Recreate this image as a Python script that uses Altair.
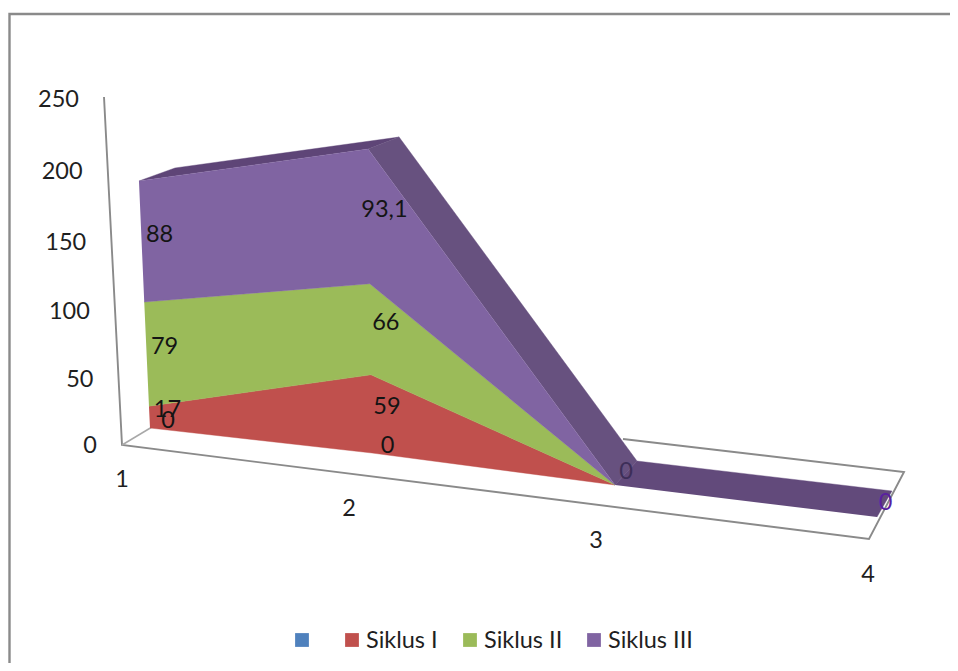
import altair as alt
import pandas as pd

# ---- chart values ----
categories = [1, 2, 3, 4]
blank = [0, 0, 0, 0]
siklus_1 = [17, 59, 0, 0]
siklus_2 = [79, 66, 0, 0]
siklus_3 = [88, 93.1, 0, 0]
series_names = ["", "Siklus I", "Siklus II", "Siklus III"]
series_colors = ["#4F81BD", "#C0504D", "#9BBB59", "#8064A2"]
axis_ticks = [0, 50, 100, 150, 200, 250]

# ---- 3D camera of the reference, per category ----
base_x = [150, 372, 615, 877]
base_y = [428, 453, 485, 517]
lean = [0.06, 0.018, 0.0, 0.0]
rise = [1.28, 1.30, 1.30, 1.30]
persp = [0.00034, 0.00043, 0.0004, 0.0004]
depth_x = [36, 31, 22, 15]
depth_y = [-13, -12, -24, -26]
cat_label_x = [122, 349, 596, 868]
cat_label_y = [480, 509, 541, 575]

W, H = 942, 655
FONT = "Lato"
TXT = "#1f1f1f"
GRID = "#8a8a8a"
xs = alt.Scale(domain=[8, 8 + W], nice=False, zero=False)
ys = alt.Scale(domain=[8 + H, 8], nice=False, zero=False)


def front(i, v):
    return (base_x[i] - lean[i] * v, base_y[i] - rise[i] * v - persp[i] * v * v)


def back(i, v):
    x, y = front(i, v)
    return (x + depth_x[i], y + depth_y[i])


def wall(v):
    return (122 - 0.072 * v, 445 - 1.39 * v)


def poly(points, color):
    df = pd.DataFrame(points, columns=["x", "y"])
    df["seq"] = range(len(df))
    return alt.Chart(df).mark_line(fill=color, stroke=color, strokeWidth=0.4, interpolate="linear").encode(
        x=alt.X("x:Q", scale=xs, axis=None),
        y=alt.Y("y:Q", scale=ys, axis=None),
        order="seq:Q",
    )


def path(points, color, width):
    df = pd.DataFrame(points, columns=["x", "y"])
    df["seq"] = range(len(df))
    return alt.Chart(df).mark_line(stroke=color, strokeWidth=width).encode(
        x=alt.X("x:Q", scale=xs, axis=None),
        y=alt.Y("y:Q", scale=ys, axis=None),
        order="seq:Q",
    )


def texts(rows, size=23.5, align="center"):
    df = pd.DataFrame(rows, columns=["x", "y", "t", "c"])
    return alt.Chart(df).mark_text(font=FONT, fontSize=size, align=align, baseline="middle").encode(
        x=alt.X("x:Q", scale=xs, axis=None),
        y=alt.Y("y:Q", scale=ys, axis=None),
        text="t:N",
        color=alt.Color("c:N", scale=None),
    )


layers = []

# outer frame
layers.append(path([(9.5, 663), (9.5, 14), (950, 14)], GRID, 2.4))

# floor and wall axis
layers.append(path([(104, 97), wall(0), (869, 539), (904, 472), (623, 439)], GRID, 1.9))
layers.append(path([wall(0), (152, 427)], "#a8a8a8", 1.5))

# stacked totals
stacks = [[0.0] * 4]
for s in [blank, siklus_1, siklus_2, siklus_3]:
    stacks.append([a + b for a, b in zip(stacks[-1], s)])
total = stacks[-1]

# depth faces of the top series
face_colors = ["#5E4577", "#67517F", "#624A7B"]
for i in range(3):
    layers.append(poly([front(i, total[i]), back(i, total[i]), back(i + 1, total[i + 1]), front(i + 1, total[i + 1])],
                       face_colors[i]))

# front faces of the stacked areas
for k in range(1, 4):
    lo, hi = stacks[k], stacks[k + 1]
    top = [front(i, hi[i]) for i in range(3)]
    bottom = [front(i, lo[i]) for i in range(3)][::-1]
    layers.append(poly(top + bottom, series_colors[k]))

# data labels: centre of each band, halfway through the depth
seen = set()
labels = []
for k, s in enumerate([blank, siklus_1, siklus_2, siklus_3]):
    for i, v in enumerate(s):
        mid = stacks[k][i] + v / 2
        x, y = front(i, mid)
        key = (i, round(mid, 2))
        if key in seen or (v == 0 and k > 0):
            continue
        seen.add(key)
        text = str(v).replace(".", ",")
        color = {2: "#3D2E58", 3: "#5A1FA0"}.get(i, "#141414")
        labels.append((x + depth_x[i] / 2 + (1 if i == 3 else 0), y + depth_y[i] / 2 - 1, text, color))
layers.append(texts(labels))

# value axis labels
tick_rows = []
for v in axis_ticks:
    tick_rows.append((97 - 0.072 * v, 446 - 1.31 * v - 0.000293 * v * v, str(v), TXT))
layers.append(texts(tick_rows, align="right"))

# category labels
layers.append(texts([(x, y, str(c), TXT) for x, y, c in zip(cat_label_x, cat_label_y, categories)]))

# legend
legend_x = [302, 352, 470, 594]
legend_text_x = [323, 366, 484, 608]
squares = pd.DataFrame({"x": legend_x, "y": [640] * 4, "c": series_colors})
layers.append(alt.Chart(squares).mark_square(size=190, opacity=1).encode(
    x=alt.X("x:Q", scale=xs, axis=None),
    y=alt.Y("y:Q", scale=ys, axis=None),
    color=alt.Color("c:N", scale=None),
))
layers.append(texts([(x, 641, n, TXT) for x, n in zip(legend_text_x, series_names) if n], align="left"))

chart = alt.layer(*layers).properties(
    width=W, height=H, padding=0, autosize=alt.AutoSizeParams(type="none"),
    background="white",
).configure_view(stroke=None)

chart.save("out.html", embed_options={"renderer": "svg", "actions": False})
